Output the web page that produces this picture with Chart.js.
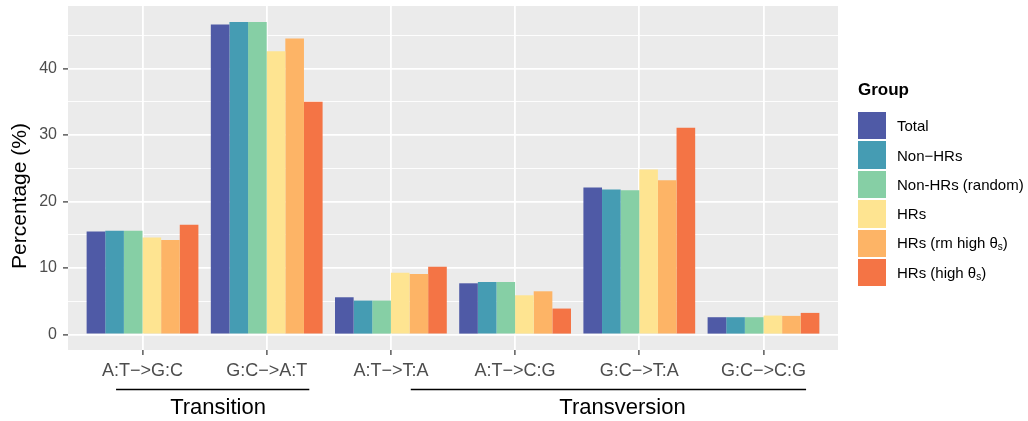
<!DOCTYPE html>
<html>
<head>
<meta charset="utf-8">
<script src="https://cdn.jsdelivr.net/npm/chart.js@4.4.0/dist/chart.umd.min.js"></script>
<style>
  body { margin: 0; background: #fff; }
  #wrap { position: relative; width: 1028px; height: 421px; font-family: "Liberation Sans", Arial, Helvetica, sans-serif; }
  #chart { position: absolute; left: 0; top: 0; }
  #legend { position: absolute; left: 858px; top: 80px; }
  #legend .titulo { font-weight: bold; font-size: 17px; color: #000; margin-bottom: 11px; }
  #legend .item { display: flex; align-items: center; height: 29.4px; }
  #legend .cor { width: 28px; height: 27.5px; margin-right: 11px; }
  #legend .txt { font-size: 15px; color: #000; }
  #legend sub { font-size: 10px; vertical-align: -2px; }
</style>
</head>
<body>
<div id="wrap">
  <canvas id="chart" width="1028" height="421"></canvas>
  <div id="legend"></div>
</div>
<script>
//Dados do grafico
var categorias = ["A:T\u2212>G:C", "G:C\u2212>A:T", "A:T\u2212>T:A", "A:T\u2212>C:G", "G:C\u2212>T:A", "G:C\u2212>C:G"];
var grupos = ["Total", "Non\u2212HRs", "Non-HRs (random)", "HRs", "HRs (rm high \u03b8<sub>s</sub>)", "HRs (high \u03b8<sub>s</sub>)"];
var nomesGrupos = ["Total", "Non\u2212HRs", "Non-HRs (random)", "HRs", "HRs (rm high \u03b8s)", "HRs (high \u03b8s)"];
var cores = ["#4F5AA6", "#459CB3", "#86CFA5", "#FEE491", "#FDB466", "#F47445"];

var total      = [15.5, 46.6, 5.6, 7.7, 22.1, 2.6];
var nonHRs     = [15.6, 47.0, 5.1, 7.9, 21.8, 2.6];
var nonHRsRand = [15.6, 47.0, 5.1, 7.9, 21.7, 2.6];
var hrs        = [14.6, 42.6, 9.3, 5.9, 24.8, 2.85];
var hrsRm      = [14.2, 44.5, 9.1, 6.5, 23.2, 2.8];
var hrsHigh    = [16.5, 35.0, 10.2, 3.9, 31.1, 3.25];
var series = [total, nonHRs, nonHRsRand, hrs, hrsRm, hrsHigh];

var yTicks = [0, 5, 10, 15, 20, 25, 30, 35, 40, 45];

// anotacao embaixo do eixo x (em unidades do eixo x)
var classes = ["Transition", "Transversion"];
var classeInicio = [0.787, 3.16];
var classeFim = [2.343, 6.343];
var classeTextoX = [1.608, 4.865];

var fonte = '"Liberation Sans", Arial, Helvetica, sans-serif';

function GerarDatasets() {
  return series.map((valores, g) => {
    return {
      label: nomesGrupos[g],
      backgroundColor: cores[g],
      borderWidth: 0,
      categoryPercentage: 0.9,
      barPercentage: 1.0,
      data: valores.map((v, i) => ({ x: i + 1, y: v }))
    };
  });
}

// fundo cinza do painel
var painelPlugin = {
  id: 'painel',
  beforeDraw(chart) {
    const ctx = chart.ctx;
    const a = chart.chartArea;
    ctx.save();
    ctx.fillStyle = '#EBEBEB';
    ctx.fillRect(a.left, a.top, a.right - a.left, a.bottom - a.top);
    ctx.restore();
  },
  afterDraw(chart) {
    const ctx = chart.ctx;
    const x = chart.scales.x;
    ctx.save();
    // titulo do eixo y
    ctx.translate(20, 196);
    ctx.rotate(-Math.PI / 2);
    ctx.fillStyle = '#000';
    ctx.font = '21px ' + fonte;
    ctx.textAlign = 'center';
    ctx.textBaseline = 'middle';
    ctx.fillText('Percentage (%)', 0, 0);
    ctx.restore();

    // linhas Transition / Transversion
    ctx.save();
    ctx.strokeStyle = '#000';
    ctx.lineWidth = 1.3;
    ctx.fillStyle = '#000';
    ctx.font = '22px ' + fonte;
    ctx.textAlign = 'center';
    ctx.textBaseline = 'middle';
    for (let i = 0; i < classes.length; i++) {
      ctx.beginPath();
      ctx.moveTo(x.getPixelForValue(classeInicio[i]), 389.5);
      ctx.lineTo(x.getPixelForValue(classeFim[i]), 389.5);
      ctx.stroke();
      ctx.fillText(classes[i], x.getPixelForValue(classeTextoX[i]), 408);
    }
    ctx.restore();
  }
};

function GerarGrafico() {
  const config = {
    type: 'bar',
    data: { datasets: GerarDatasets() },
    plugins: [painelPlugin],
    options: {
      responsive: false,
      animation: false,
      layout: { padding: { left: 0, right: 190, top: 6, bottom: 0 } },
      plugins: { legend: { display: false }, tooltip: { enabled: false } },
      scales: {
        x: {
          type: 'linear',
          min: 0.4,
          max: 6.6,
          offset: false,
          afterBuildTicks: (s) => { s.ticks = categorias.map((c, i) => ({ value: i + 1 })); },
          afterFit: (s) => { s.height = 71; s.paddingLeft = 0; s.paddingRight = 0; },
          border: { display: false },
          grid: { offset: false, color: '#FFFFFF', lineWidth: 1.8, tickColor: '#333333', tickLength: 5, tickWidth: 1.2 },
          ticks: {
            color: '#4D4D4D',
            font: { size: 18, family: fonte },
            padding: 5,
            maxRotation: 0,
            autoSkip: false,
            callback: (v) => categorias[Math.round(v) - 1]
          }
        },
        y: {
          min: -2.33,
          max: 49.4,
          afterBuildTicks: (s) => { s.ticks = yTicks.map(v => ({ value: v })); },
          afterFit: (s) => { s.width = 68; s.paddingTop = 0; s.paddingBottom = 0; },
          border: { display: false },
          grid: {
            color: '#FFFFFF',
            lineWidth: (c) => (c.tick && c.tick.value % 10 === 0 ? 1.8 : 0.9),
            tickColor: (c) => (c.tick && c.tick.value % 10 === 0 ? '#333333' : 'rgba(0,0,0,0)'),
            tickLength: 5,
            tickWidth: 1.2
          },
          ticks: {
            color: '#4D4D4D',
            font: { size: 16, family: fonte },
            padding: 6,
            autoSkip: false,
            callback: (v) => (v % 10 === 0 ? v : '')
          }
        }
      }
    }
  };
  myChart = new Chart(document.getElementById('chart'), config);
}

function GerarLegenda() {
  let html = '<div class="titulo">Group</div>';
  for (let i = 0; i < grupos.length; i++) {
    html += '<div class="item"><div class="cor" style="background:' + cores[i] + '"></div>' +
            '<div class="txt">' + grupos[i] + '</div></div>';
  }
  document.getElementById('legend').innerHTML = html;
}

let myChart;
GerarLegenda();
GerarGrafico();
</script>
</body>
</html>
